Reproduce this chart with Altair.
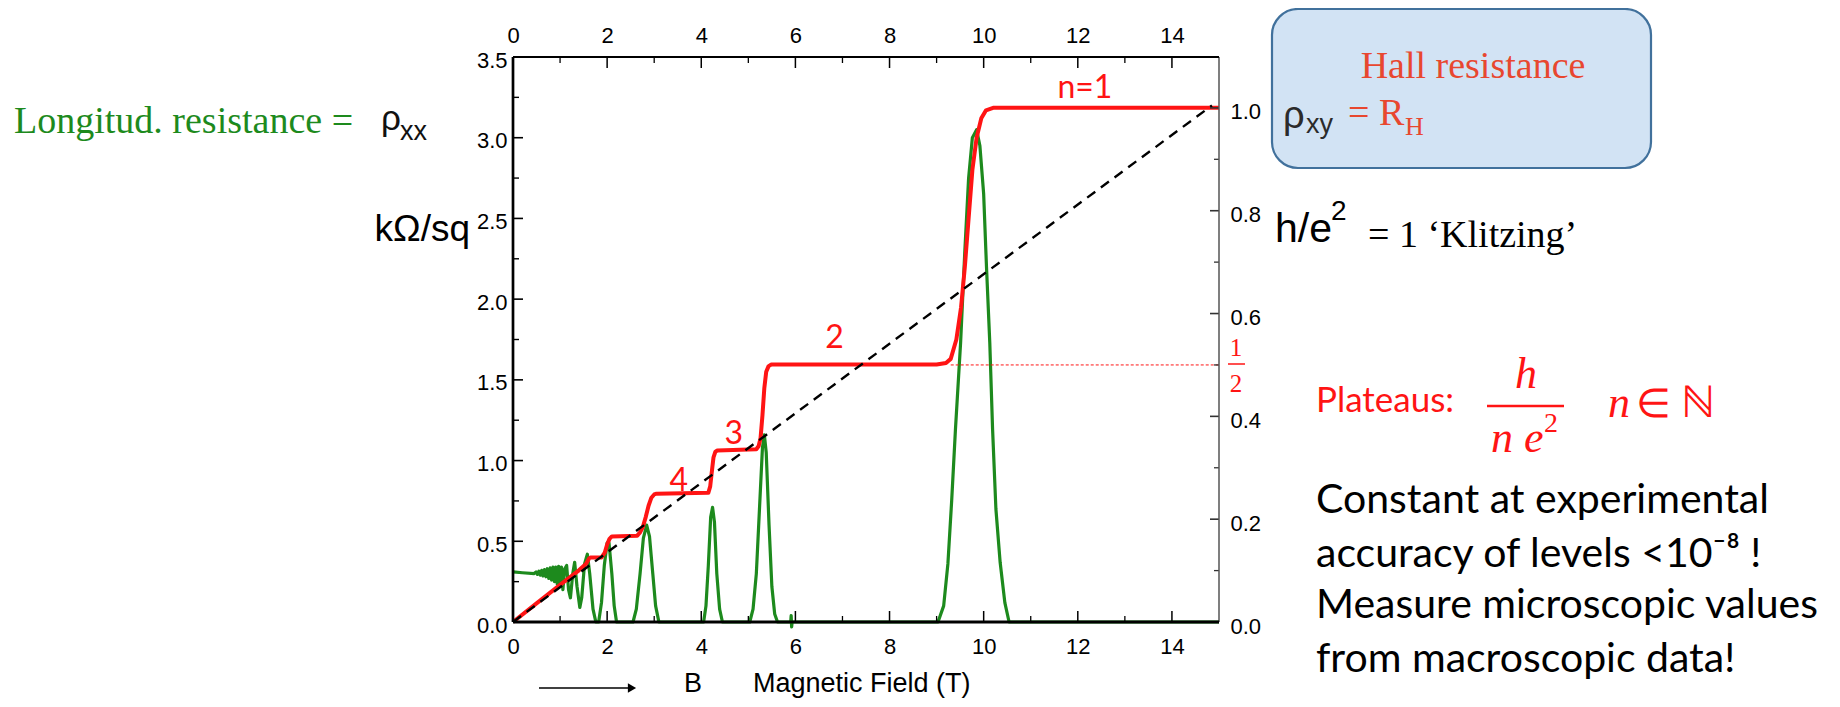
import altair as alt
import pandas as pd

# ---------------- values ----------------
x_tick_labels = [0, 2, 4, 6, 8, 10, 12, 14]
x_minor_ticks = [1, 3, 5, 7, 9, 11, 13]
left_tick_labels = [0.0, 0.5, 1.0, 1.5, 2.0, 2.5, 3.0, 3.5]
left_minor_ticks = [0.25, 0.75, 1.25, 1.75, 2.25, 2.75, 3.25]
right_tick_labels = [0.0, 0.2, 0.4, 0.6, 0.8, 1.0]
right_minor_ticks = [0.1, 0.3, 0.5, 0.7, 0.9]

# Hall resistance rho_xy (left axis units) vs magnetic field B (T)
hall_points = [
    (0.0, 0.0), (0.5, 0.115), (1.0, 0.23), (1.4, 0.32), (1.55, 0.36), (1.62, 0.395),
    (1.66, 0.40), (1.88, 0.40), (1.95, 0.43), (2.0, 0.48), (2.05, 0.515), (2.1, 0.53),
    (2.64, 0.535), (2.7, 0.555), (2.76, 0.59), (2.82, 0.65), (2.88, 0.72), (2.94, 0.77),
    (3.0, 0.79), (3.05, 0.795), (4.15, 0.80), (4.19, 0.84), (4.22, 0.92), (4.26, 1.02),
    (4.3, 1.055), (4.34, 1.062), (5.17, 1.07), (5.22, 1.09), (5.26, 1.14), (5.3, 1.28),
    (5.34, 1.45), (5.38, 1.55), (5.43, 1.585), (5.49, 1.595), (9.0, 1.595), (9.2, 1.605),
    (9.3, 1.63), (9.42, 1.75), (9.52, 1.95), (9.6, 2.2), (9.68, 2.5), (9.76, 2.8),
    (9.85, 3.0), (9.95, 3.12), (10.05, 3.17), (10.2, 3.185), (15.0, 3.185),
]

# longitudinal resistance rho_xx vs B
long_points = [
    (0.0, 0.31), (0.2, 0.305), (0.45, 0.30), (0.49, 0.31), (0.52, 0.295), (0.55, 0.315),
    (0.58, 0.29), (0.61, 0.32), (0.64, 0.285), (0.67, 0.325), (0.70, 0.28), (0.73, 0.33),
    (0.76, 0.27), (0.79, 0.335), (0.82, 0.26), (0.85, 0.34), (0.88, 0.25), (0.91, 0.34),
    (0.94, 0.235), (0.97, 0.345), (1.0, 0.22), (1.03, 0.34), (1.06, 0.20), (1.1, 0.33),
    (1.14, 0.35), (1.18, 0.2), (1.22, 0.15), (1.27, 0.3), (1.31, 0.37), (1.36, 0.22),
    (1.42, 0.09), (1.46, 0.15), (1.52, 0.36), (1.58, 0.42), (1.63, 0.3), (1.7, 0.08),
    (1.76, 0.0), (1.82, 0.0), (1.88, 0.12), (1.94, 0.35), (2.0, 0.49), (2.04, 0.49),
    (2.1, 0.3), (2.15, 0.1), (2.2, 0.0), (2.55, 0.0), (2.62, 0.08), (2.7, 0.3),
    (2.77, 0.52), (2.84, 0.60), (2.9, 0.53), (2.97, 0.3), (3.03, 0.1), (3.1, 0.0),
    (4.05, 0.0), (4.1, 0.1), (4.15, 0.35), (4.2, 0.65), (4.24, 0.71), (4.28, 0.62),
    (4.33, 0.3), (4.39, 0.08), (4.45, 0.0), (5.03, 0.0), (5.1, 0.08), (5.17, 0.3),
    (5.24, 0.72), (5.3, 1.08), (5.34, 1.16), (5.38, 1.05), (5.44, 0.6), (5.5, 0.22),
    (5.56, 0.05), (5.62, 0.0), (5.9, 0.0), (5.91, 0.04), (5.92, -0.03), (5.93, 0.0),
    (9.03, 0.0), (9.15, 0.1), (9.24, 0.36), (9.32, 0.75), (9.4, 1.19), (9.51, 1.73),
    (9.6, 2.3), (9.68, 2.75), (9.76, 3.0), (9.85, 3.05), (9.92, 2.95), (10.0, 2.65),
    (10.06, 2.2), (10.13, 1.73), (10.19, 1.19), (10.26, 0.7), (10.35, 0.37),
    (10.45, 0.12), (10.54, 0.0), (15.0, 0.0),
]

# classical Hall line (dashed)
classical_points = [(0.0, 0.0), (14.85, 3.2)]

# dotted 1/2 level (right axis units, h/e^2)
half_line_B = [9.3, 15.0]
half_line_level = 0.5

plateau_names = ["n=1", "2", "3", "4"]
plateau_B = [12.15, 6.83, 4.69, 3.52]
plateau_rho = [3.31, 1.76, 1.165, 0.875]

# ---------------- layout / style ----------------
W, H = 706, 565
X0, Y0 = 513, 57          # page position of the plot's top-left corner
SANS = "Liberation Sans, Arial, sans-serif"
SERIF = "Liberation Serif, Times New Roman, serif"
CAL = "Lato, Open Sans, sans-serif"
RED = "#ff1414"
HALLRED = "#e8472f"
GREEN = "#1d8a1d"

XS = alt.Scale(domain=[0, 15], nice=False, zero=False)
YS = alt.Scale(domain=[0, 3.5], nice=False, zero=False)
RS = alt.Scale(domain=[0, 1.099], nice=False, zero=False)


def xenc(field, axis=None):
    return alt.X(field + ":Q", scale=XS, axis=axis)


def yenc(field, scale, axis=None):
    return alt.Y(field + ":Q", scale=scale, axis=axis)


dummy = pd.DataFrame({"k": [0]})


def note(text, x, y, size, color="black", font=SANS, align="left", style="normal",
         baseline="alphabetic"):
    return alt.Chart(dummy).mark_text(
        text=text, font=font, fontSize=size, color=color, align=align,
        baseline=baseline, fontStyle=style
    ).encode(x=alt.value(x - X0), y=alt.value(y - Y0))


def seg(x1, y1, x2, y2, color="black", width=1.0, dash=None):
    kw = dict(color=color, strokeWidth=width)
    if dash:
        kw["strokeDash"] = dash
    return alt.Chart(dummy).mark_rule(**kw).encode(
        x=alt.value(x1), x2=alt.value(x2), y=alt.value(y1), y2=alt.value(y2))


axis_common = dict(ticks=False, tickSize=0, domain=False, grid=False, title=None,
                   labelFont=SANS, labelColor="black", labelFlush=False,
                   labelOverlap=False)
axis_bottom = alt.Axis(orient="bottom", values=x_tick_labels, format="d",
                       labelFontSize=22, labelPadding=14, **axis_common)
axis_top = alt.Axis(orient="top", values=x_tick_labels, format="d",
                    labelFontSize=22, labelPadding=10, **axis_common)
axis_left = alt.Axis(orient="left", values=left_tick_labels, format=".1f",
                     labelFontSize=22, labelPadding=6, labelOffset=3, **axis_common)
axis_right = alt.Axis(orient="right", values=right_tick_labels, format=".1f",
                      labelFontSize=22, labelPadding=11, labelOffset=4, **axis_common)

hall_df = pd.DataFrame(hall_points, columns=["B", "rho"]).reset_index()
long_df = pd.DataFrame(long_points, columns=["B", "rho"]).reset_index()
class_df = pd.DataFrame(classical_points, columns=["B", "rho"])
half_df = pd.DataFrame({"B": half_line_B, "r": [half_line_level] * len(half_line_B)})
plat_df = pd.DataFrame({"name": plateau_names, "B": plateau_B, "rho": plateau_rho})

# ticks (drawn inside the frame)
top_major = alt.Chart(pd.DataFrame({"v": x_tick_labels})).mark_rule(
    color="black", strokeWidth=1.5).encode(
    x=xenc("v", axis_top), y=alt.value(0), y2=alt.value(11))
top_minor = alt.Chart(pd.DataFrame({"v": x_minor_ticks})).mark_rule(
    color="black", strokeWidth=1.3).encode(
    x=xenc("v"), y=alt.value(0), y2=alt.value(6))
bot_major = alt.Chart(pd.DataFrame({"v": x_tick_labels})).mark_rule(
    color="black", strokeWidth=1.5).encode(
    x=xenc("v"), y=alt.value(H), y2=alt.value(H - 11))
bot_minor = alt.Chart(pd.DataFrame({"v": x_minor_ticks})).mark_rule(
    color="black", strokeWidth=1.3).encode(
    x=xenc("v"), y=alt.value(H), y2=alt.value(H - 6))
left_major = alt.Chart(pd.DataFrame({"v": left_tick_labels})).mark_rule(
    color="black", strokeWidth=1.6).encode(
    y=yenc("v", YS), x=alt.value(0), x2=alt.value(10))
left_minor = alt.Chart(pd.DataFrame({"v": left_minor_ticks})).mark_rule(
    color="black", strokeWidth=1.4).encode(
    y=yenc("v", YS), x=alt.value(0), x2=alt.value(6))
right_major = alt.Chart(pd.DataFrame({"v": right_tick_labels})).mark_rule(
    color="#333333", strokeWidth=1.6).encode(
    y=yenc("v", RS, axis_right), x=alt.value(W), x2=alt.value(W - 9))
right_minor = alt.Chart(pd.DataFrame({"v": right_minor_ticks})).mark_rule(
    color="#333333", strokeWidth=1.3).encode(
    y=yenc("v", RS), x=alt.value(W), x2=alt.value(W - 5))

frame = [
    seg(W, 0, W, H, "#555555", 1.5),
    seg(0, 0, W, 0, "black", 2.0),
    seg(0, H, W, H, "black", 3.0),
    seg(0, 0, 0, H, "black", 2.7),
]

green = alt.Chart(long_df).mark_line(color=GREEN, strokeWidth=3.2, strokeJoin="round").encode(
    x=xenc("B", axis_bottom), y=yenc("rho", YS, axis_left), order="index:Q")
red = alt.Chart(hall_df).mark_line(color=RED, strokeWidth=4, strokeJoin="round").encode(
    x=xenc("B"), y=yenc("rho", YS), order="index:Q")
dashed = alt.Chart(class_df).mark_line(color="black", strokeWidth=2.4, strokeDash=[10, 7]).encode(
    x=xenc("B"), y=yenc("rho", YS))
half = alt.Chart(half_df).mark_line(color=RED, strokeWidth=1, strokeDash=[3, 2]).encode(
    x=xenc("B"), y=yenc("r", RS))
plats = alt.Chart(plat_df).mark_text(font=CAL, fontSize=32, color=RED, baseline="middle").encode(
    x=xenc("B"), y=yenc("rho", YS), text="name:N")

annotations = [
    # left side
    note("Longitud. resistance =", 14, 133, 38, GREEN, SERIF),
    note("ρ", 381, 130, 35, "#111111", SANS),
    note("xx", 400, 140, 27, "#111111", SANS),
    note("kΩ/sq", 470, 241, 37, "black", SANS, align="right"),
    # Hall box content
    note("Hall resistance", 1473, 78, 38, HALLRED, SERIF, align="center"),
    note("ρ", 1283, 128, 38, "#2b2b2b", SANS),
    note("xy", 1306, 133, 27, "#2b2b2b", SANS),
    note("= R", 1348, 125, 38, HALLRED, SERIF),
    note("H", 1405, 135, 26, HALLRED, SERIF),
    # h/e^2 = 1 Klitzing
    note("h/e", 1275, 242, 41, "black", SANS),
    note("2", 1331, 220, 28, "black", SANS),
    note("= 1 \u2018Klitzing\u2019", 1368, 247, 38, "black", SERIF),
    # 1/2 at right axis
    note("1", 1236, 356, 25, RED, SERIF, align="center"),
    note("2", 1236, 392, 25, RED, SERIF, align="center"),
    # plateaus formula
    note("Plateaus:", 1316, 412, 35, RED, CAL),
    note("h", 1526, 388, 44, RED, SERIF, align="center", style="italic"),
    note("n e", 1491, 452, 44, RED, SERIF, style="italic"),
    note("2", 1544, 432, 28, RED, SERIF),
    note("n", 1608, 417, 44, RED, SERIF, style="italic"),
    note("∈", 1636, 417, 40, RED, SERIF),
    note("ℕ", 1681, 417, 44, RED, SERIF),
    # black text block
    note("Constant at experimental", 1316, 513, 41, "black", CAL),
    note("accuracy of  levels <10⁻⁸ !", 1316, 567, 41, "black", CAL),
    note("Measure microscopic values", 1316, 618, 41, "black", CAL),
    note("from macroscopic data!", 1316, 672, 41, "black", CAL),
    # bottom title
    note("B", 684, 692, 27, "black", SANS),
    note("Magnetic Field  (T)", 753, 692, 27, "black", SANS),
]

box = alt.Chart(dummy).mark_rect(cornerRadius=26, fill="#d2e3f4", stroke="#41719c",
                                 strokeWidth=2.2).encode(
    x=alt.value(1272 - X0), x2=alt.value(1651 - X0),
    y=alt.value(9 - Y0), y2=alt.value(168 - Y0))

extra_lines = [
    seg(1228 - X0, 364 - Y0, 1245 - X0, 364 - Y0, RED, 1.5),      # 1/2 bar
    seg(1487 - X0, 406 - Y0, 1564 - X0, 406 - Y0, RED, 2.5),      # fraction bar
    seg(539 - X0, 688 - Y0, 628 - X0, 688 - Y0, "black", 1.5),    # arrow shaft
]
arrow_head = alt.Chart(dummy).mark_point(shape="triangle-right", filled=True, size=90,
                                         color="black", opacity=1).encode(
    x=alt.value(632 - X0), y=alt.value(688 - Y0))

layers = ([box, green, red, dashed, half, plats,
           top_major, top_minor, bot_major, bot_minor,
           left_major, left_minor, right_major, right_minor]
          + frame + extra_lines + [arrow_head] + annotations)

chart = alt.layer(*layers).resolve_scale(x="independent", y="independent").properties(
    width=W, height=H,
    padding={"left": X0 - 8, "top": Y0 - 8, "right": 1824 - (X0 - 8) - W,
             "bottom": 691 - (Y0 - 8) - H},
    autosize=alt.AutoSizeParams(type="none"),
).configure_view(strokeWidth=0)

chart.save("out.html", embed_options={"renderer": "svg", "actions": False})
